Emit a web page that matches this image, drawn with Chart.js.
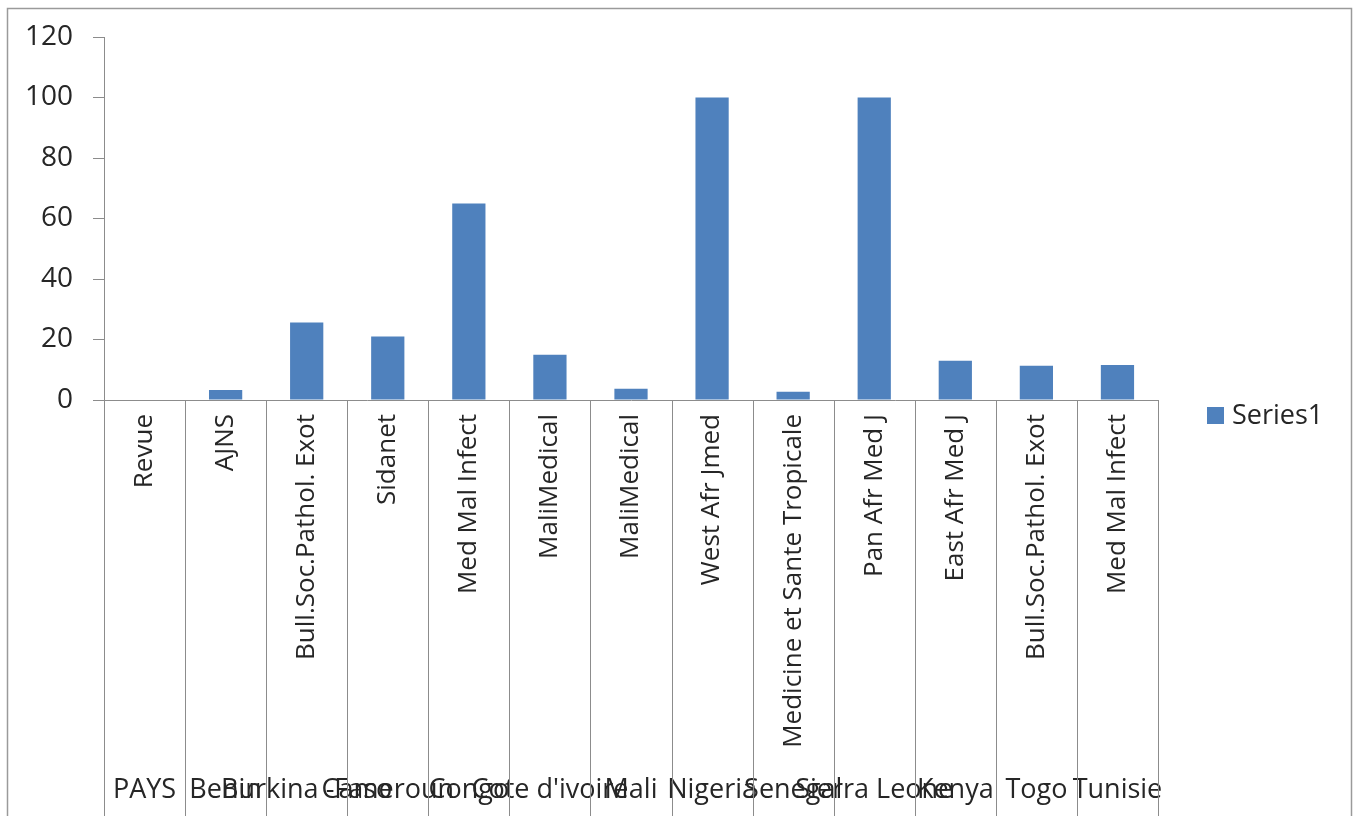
<!DOCTYPE html>
<html>
<head>
<meta charset="utf-8">
<script src="https://cdn.jsdelivr.net/npm/chart.js@4.4.0/dist/chart.umd.min.js"></script>
<style>
  html, body { margin: 0; padding: 0; background: #fff; }
  canvas { display: block; }
</style>
</head>
<body>
<canvas id="chart" width="1358" height="816"></canvas>
<script>
// Data
const countries = ['PAYS', 'Benin', 'Burkina -Faso', 'Cameroun', 'Congo', "Cote d'ivoire", 'Mali', 'Nigeria', 'Senegal', 'Sierra Leone', 'Kenya', 'Togo', 'Tunisie'];
const journals = ['Revue', 'AJNS', 'Bull.Soc.Pathol. Exot', 'Sidanet', 'Med Mal Infect', 'MaliMedical', 'MaliMedical', 'West Afr Jmed', 'Medicine et Sante Tropicale', 'Pan Afr Med J', 'East Afr Med J', 'Bull.Soc.Pathol. Exot', 'Med Mal Infect'];
const series1 = [0, 3.3, 25.6, 21, 65, 15, 3.7, 100, 2.7, 100, 13, 11.3, 11.6];
const yTicks = [0, 20, 40, 60, 80, 100, 120];

const colors = {
    bar: '#4f81bd',
    axis: '#8c8c8c',
    text: '#262626',
    frame: '#9a9a9a'
};
const font = "'Open Sans', sans-serif";

// frame, category separators and legend
const excelLook = {
    id: 'excelLook',
    beforeDraw(chart) {
        const ctx = chart.ctx;
        ctx.save();
        ctx.strokeStyle = colors.frame;
        ctx.lineWidth = 1.5;
        ctx.strokeRect(7.5, 8.5, 1344, 900);
        ctx.restore();
    },
    afterDraw(chart) {
        const ctx = chart.ctx;
        const xs = chart.scales.x;
        const area = chart.chartArea;
        const half = (xs.getPixelForValue(1) - xs.getPixelForValue(0)) / 2;
        ctx.save();
        ctx.strokeStyle = colors.axis;
        ctx.lineWidth = 1;
        for (let i = 0; i <= journals.length; i++) {
            const x = Math.round(xs.getPixelForValue(i) - half) + 0.5;
            ctx.beginPath();
            ctx.moveTo(x, area.bottom);
            ctx.lineTo(x, chart.height);
            ctx.stroke();
        }
        // legend
        const ds = chart.data.datasets[0];
        const lx = area.right + 49, ly = area.bottom + 16;
        ctx.fillStyle = ds.backgroundColor;
        ctx.fillRect(lx, ly - 9, 17, 17);
        ctx.fillStyle = colors.text;
        ctx.font = '27px ' + font;
        ctx.textBaseline = 'middle';
        ctx.textAlign = 'left';
        ctx.fillText(ds.label, lx + 25, ly);
        ctx.restore();
    }
};

new Chart(document.getElementById('chart'), {
    type: 'bar',
    data: {
        labels: journals,
        datasets: [{
            label: 'Series1',
            data: series1,
            backgroundColor: colors.bar,
            barPercentage: 0.41,
            categoryPercentage: 1,
            xAxisID: 'x'
        }]
    },
    options: {
        responsive: false,
        animation: false,
        layout: { padding: { top: 37, right: 200, left: 0, bottom: 0 } },
        plugins: {
            legend: { display: false },
            tooltip: { enabled: false }
        },
        scales: {
            y: {
                min: 0,
                max: 120,
                afterFit: s => { s.width = 104; },
                afterBuildTicks: s => { s.ticks = yTicks.map(v => ({ value: v })); },
                grid: { drawOnChartArea: false, tickLength: 11, color: colors.axis },
                border: { display: true, color: colors.axis },
                ticks: { padding: 20, color: colors.text, font: { family: font, size: 28 } }
            },
            x: {
                position: 'bottom',
                afterFit: s => { s.height = 370; },
                grid: { display: false, drawTicks: false },
                border: { display: true, color: colors.axis },
                ticks: {
                    autoSkip: false,
                    minRotation: 90,
                    maxRotation: 90,
                    padding: 14,
                    color: colors.text,
                    font: { family: font, size: 26 }
                }
            },
            x2: {
                type: 'category',
                position: 'bottom',
                labels: countries,
                offset: true,
                afterFit: s => { s.height = 46; },
                grid: { display: false, drawTicks: false },
                border: { display: false },
                ticks: {
                    autoSkip: false,
                    minRotation: 0,
                    maxRotation: 0,
                    padding: 4,
                    color: colors.text,
                    font: { family: font, size: 27 }
                }
            }
        }
    },
    plugins: [excelLook]
});
</script>
</body>
</html>
